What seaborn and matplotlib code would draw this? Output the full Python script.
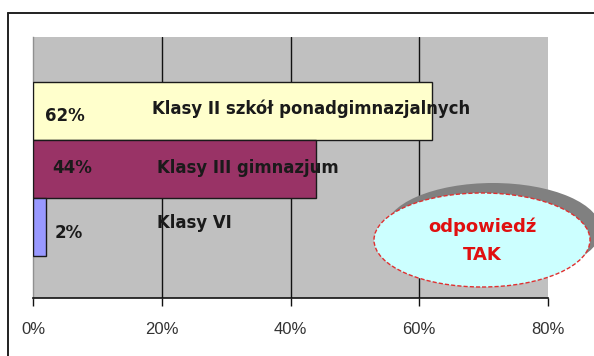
import matplotlib
matplotlib.use("Agg")
import matplotlib.pyplot as plt
from matplotlib.patches import Ellipse
from matplotlib.lines import Line2D
import seaborn as sns
import pandas as pd

# Survey answers "TAK" by school group
groups = ["Klasy II szkół ponadgimnazjalnych", "Klasy III gimnazjum", "Klasy VI"]
values = [62, 44, 2]
colors = ["#FFFFCC", "#993366", "#9999FF"]
ticks = [0, 20, 40, 60, 80]
tick_labels = ["0%", "20%", "40%", "60%", "80%"]

sns.set_theme(style="white")
plt.rcParams["font.family"] = ["Liberation Sans", "DejaVu Sans"]

W, H = 594, 356
fig = plt.figure(figsize=(W / 100, H / 100), dpi=100)
fig.patch.set_facecolor("white")

def fx(px):
    return px / W

def fy(py):
    return 1 - py / H

# outer chart frame (open at right and bottom)
fig.add_artist(Line2D([fx(8), fx(8)], [fy(13), fy(H + 5)], color="#202020", lw=1.4))
fig.add_artist(Line2D([fx(8), fx(W + 5)], [fy(13), fy(13)], color="#202020", lw=1.4))

ax = fig.add_axes([fx(33), fy(298), fx(548) - fx(33), fy(37) - fy(298)])
ax.set_facecolor("#C0C0C0")

df = pd.DataFrame({"grupa": groups, "procent": values})
sns.barplot(data=df, y="grupa", x="procent", hue="grupa", palette=colors,
            order=groups, hue_order=groups, width=1.0, orient="h", saturation=1,
            edgecolor="#1a1a1a", linewidth=1.0, legend=False, ax=ax, zorder=3)

ax.set_xlim(0, 80)
ax.set_ylim(len(groups) - 1 + 1.22, -1.28)
ax.set_xticks(ticks)
ax.set_xticklabels(tick_labels, fontsize=12, color="#333333")
ax.set_yticks([])
ax.set_xlabel("")
ax.set_ylabel("")
for x in ticks[1:-1]:
    ax.axvline(x, color="#111111", lw=1.0, zorder=1)
ax.tick_params(axis="x", bottom=True, length=6, width=1.0, color="#111111", pad=11)
for side in ("top", "right"):
    ax.spines[side].set_visible(False)
ax.spines["left"].set_color("#909090")
ax.spines["left"].set_linewidth(1.0)
ax.spines["bottom"].set_color("#111111")
ax.spines["bottom"].set_linewidth(1.2)

# value and group labels
label_font = ["DejaVu Sans"]
pct_x = [1.9, 2.95, 3.4]
pct_dy = [0.08, -0.02, 0.10]
name_x = [18.5, 19.3, 19.3]
name_dy = [-0.05, -0.02, -0.07]
for i, (g, v) in enumerate(zip(groups, values)):
    ax.text(pct_x[i], i + pct_dy[i], f"{v}%", ha="left", va="center",
            family=label_font, fontsize=12, fontweight="bold",
            color="#1a1a1a", zorder=5)
    ax.text(name_x[i], i + name_dy[i], g, ha="left", va="center",
            family=label_font, fontsize=11.9, fontweight="bold",
            color="#1a1a1a", zorder=5)

# callout bubble with shadow
cx, cy, ew, eh = 482, 240, 216, 94
fig.add_artist(Ellipse((fx(cx + 11), fy(cy - 10)), fx(ew), eh / H,
                       facecolor="#808080", edgecolor="none", zorder=6))
fig.add_artist(Ellipse((fx(cx), fy(cy)), fx(ew), eh / H,
                       facecolor="#CCFFFF", edgecolor="#E03030", lw=1.0,
                       linestyle=(0, (3, 1.5)), zorder=7))
fig.text(fx(482), fy(227), "odpowiedź", ha="center", va="center",
         family=label_font, fontsize=13, fontweight="bold", color="#E01010", zorder=8)
fig.text(fx(482), fy(255), "TAK", ha="center", va="center",
         family=label_font, fontsize=13, fontweight="bold", color="#E01010", zorder=8)

fig.savefig("out.png", dpi=100)
